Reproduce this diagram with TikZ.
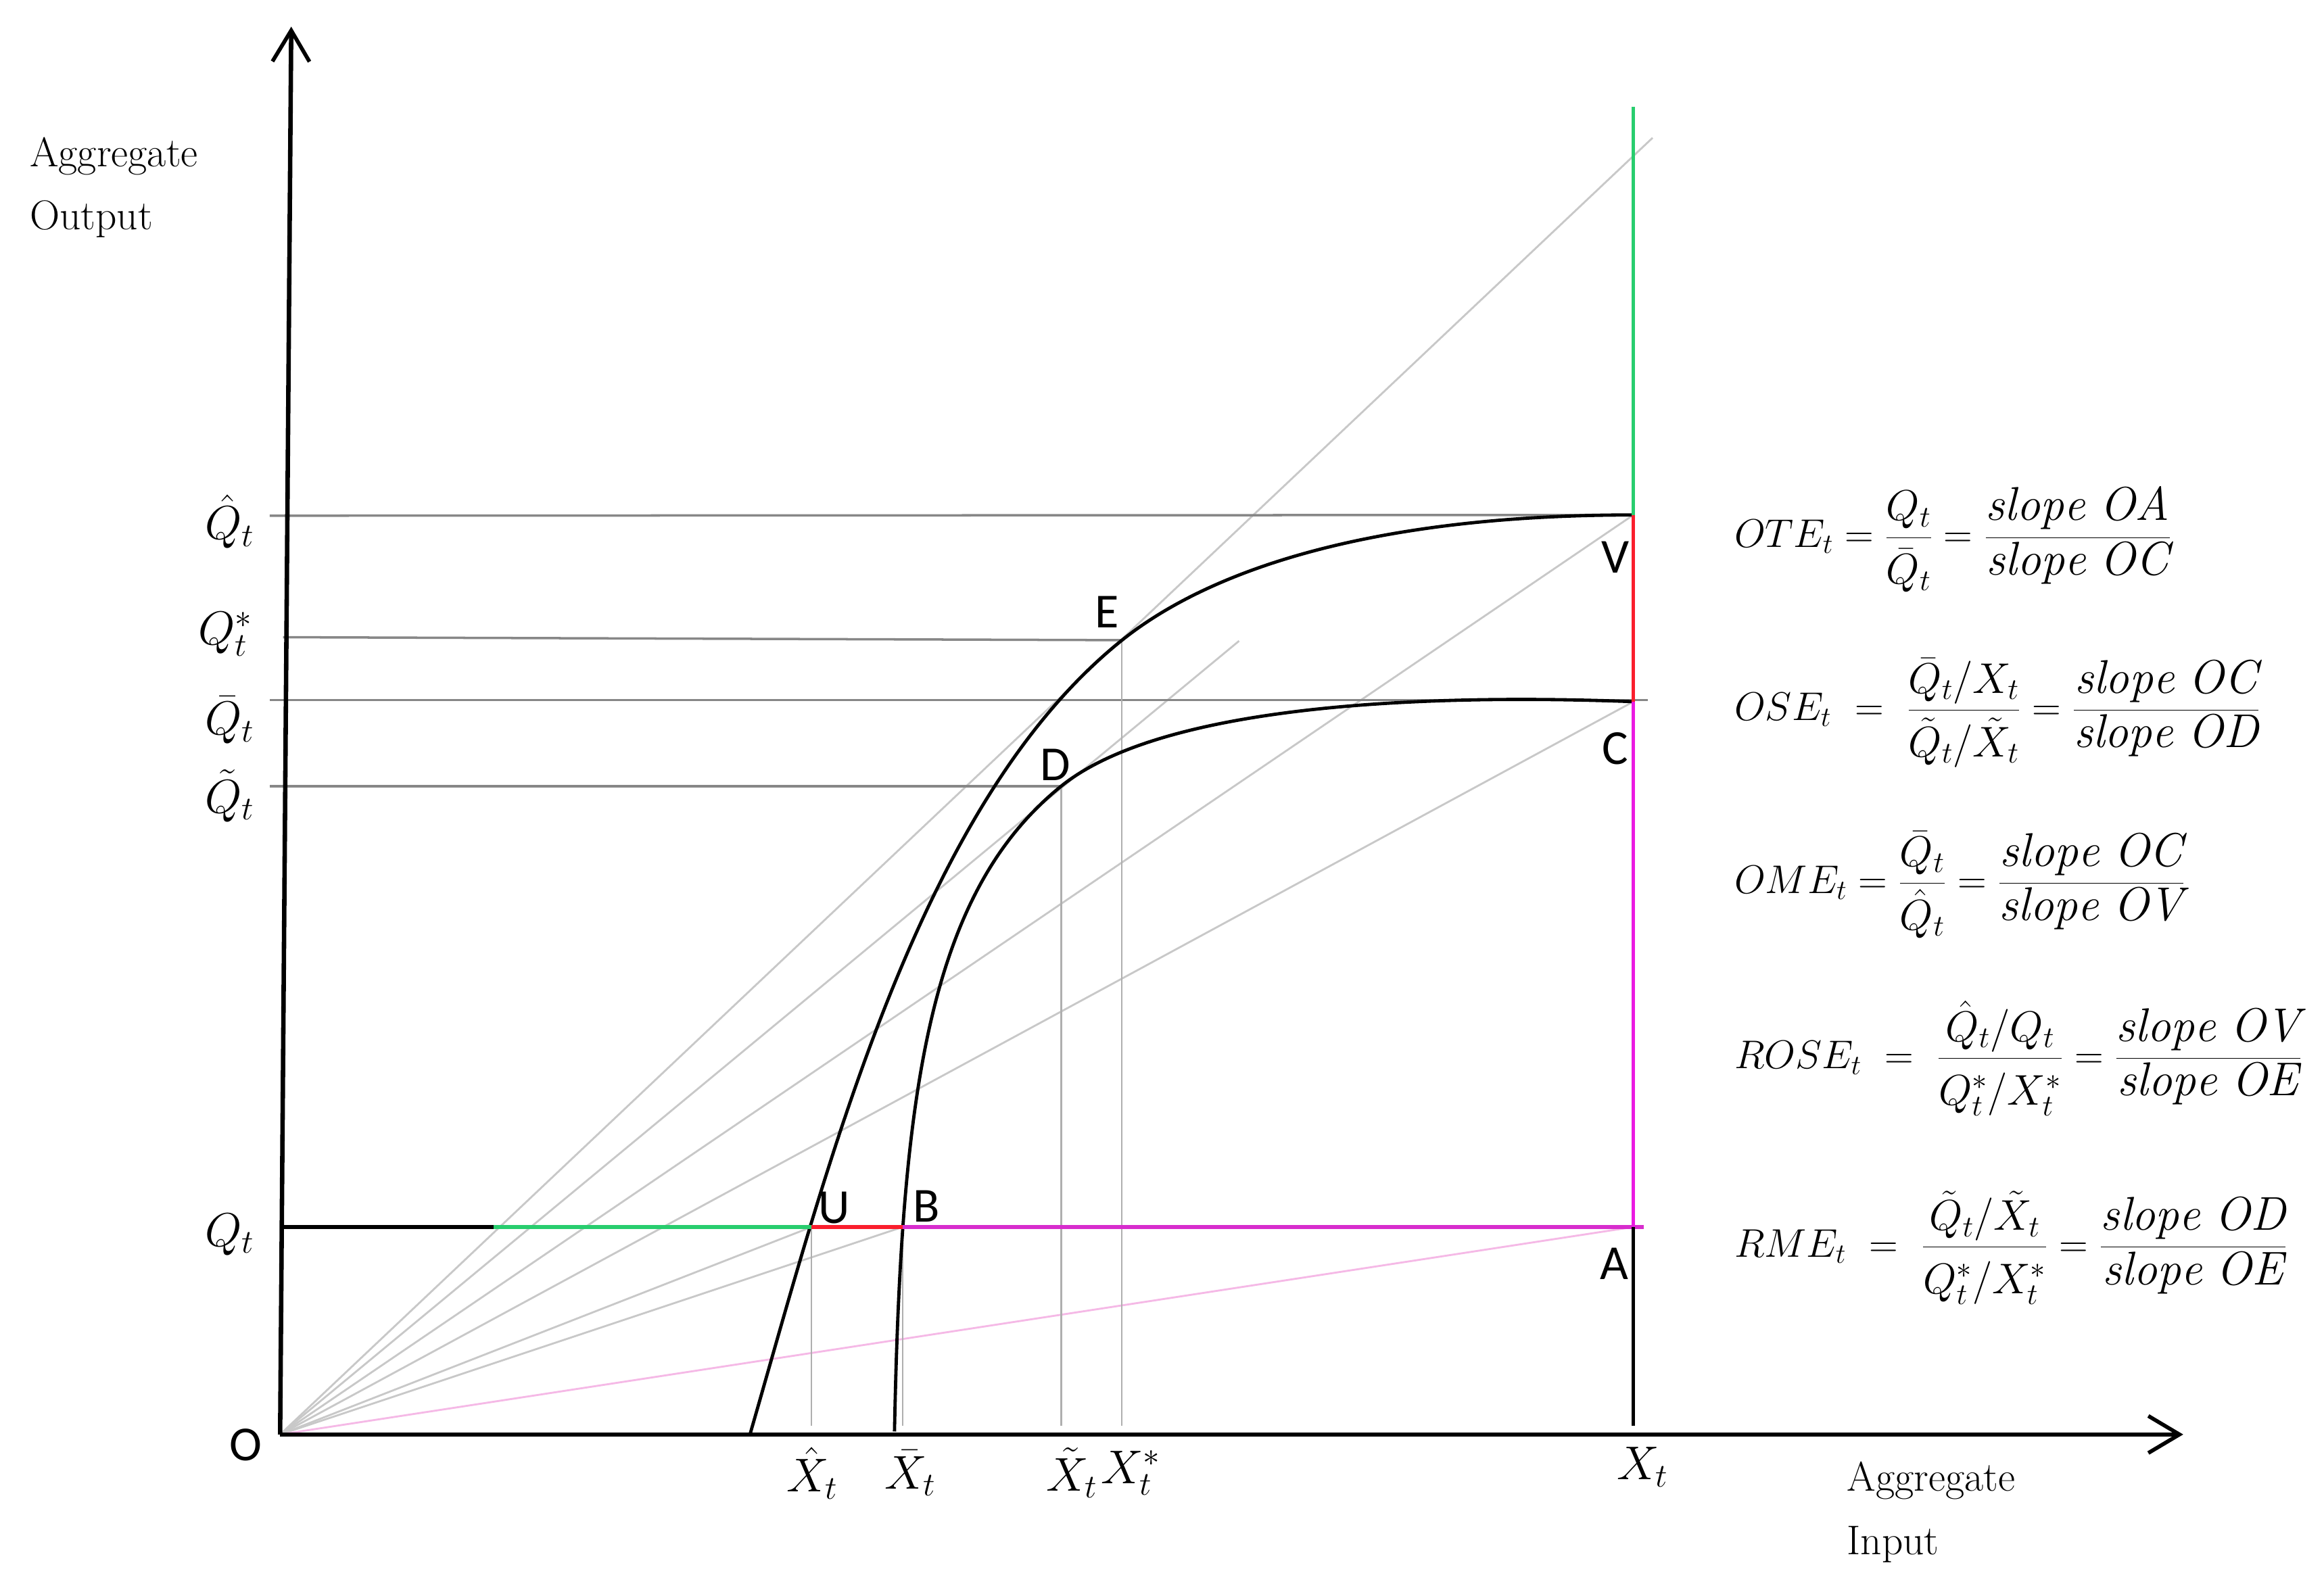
\RequirePackage{fix-cm}
\documentclass[tikz,border=0pt]{standalone}
\usepackage{fontspec}
\newfontfamily\ptfont{Carlito}
\usetikzlibrary{arrows.meta}
\definecolor{mygreen}{RGB}{40,205,110}
\definecolor{myred}{RGB}{250,30,45}
\definecolor{mymag}{RGB}{235,25,225}
\definecolor{mymagh}{RGB}{215,45,205}
\definecolor{guidegray}{RGB}{135,135,135}
\definecolor{raygray}{RGB}{200,200,200}
\definecolor{vguidegray}{RGB}{175,175,175}
\definecolor{pinkray}{RGB}{245,185,230}
\newcommand\slp[1]{\mbox{\fontsize{32}{38}\selectfont$\mathit{slope\ #1}$}}
\newcommand\qnum[1]{\mbox{\fontsize{29}{34}\selectfont$#1$\rule[-5pt]{0pt}{5pt}}}
\newcommand\qden[1]{\mbox{\fontsize{29}{34}\selectfont\rule{0pt}{30pt}$#1$}}
\tikzset{
  axisline/.style={line width=3pt, black, -{Straight Barb[length=21pt,width=25pt,line width=2.6pt]}},
  frontier/.style={line width=2.2pt, black},
  guide/.style={line width=1.6pt, guidegray},
  ray/.style={line width=1.3pt, raygray},
  vguide/.style={line width=1pt, vguidegray},
  seg/.style={line width=3pt},
  ptlabel/.style={font=\ptfont\fontsize{33}{38}\selectfont, inner sep=0pt},
  mlabel/.style={font=\fontsize{32}{38}\selectfont, inner sep=0pt},
  axlabel/.style={font=\fontsize{28}{34}\selectfont, inner sep=0pt, anchor=base west},
  formula/.style={font=\fontsize{27}{32}\selectfont, anchor=west, inner sep=0pt},
}
\begin{document}
\begin{tikzpicture}[x=1pt,y=-1pt]
\useasboundingbox (0,0) rectangle (1568,1070);
% key points
\coordinate (O) at (189,968);
\coordinate (Ytip) at (196.5,18);
\coordinate (Xtip) at (1473,968);
\coordinate (U) at (547.5,828);
\coordinate (B) at (609,828);
\coordinate (E) at (757,432);
\coordinate (D) at (716,530.5);
\coordinate (V) at (1102,347.5);
\coordinate (C) at (1102,473.5);
\coordinate (A) at (1102,828);
\coordinate (Xtop) at (1102,72);
\coordinate (Xbot) at (1102,962);
\coordinate (OEend) at (1115,93);
\coordinate (ODend) at (836,432.5);
\coordinate (QL) at (190,828);
\coordinate (G) at (333,828);
\coordinate (Aend) at (1109,828);
\coordinate (QhatL) at (182,348);
\coordinate (QstarL) at (191,430);
\coordinate (QbarL) at (182,472.5);
\coordinate (QbarR) at (1112,472.5);
\coordinate (QtilL) at (182,530.5);
\coordinate (F1) at (506,968);
\coordinate (F2) at (603.5,966);

% rays from the origin
\draw[ray] (O) -- (OEend);
\draw[ray] (O) -- (ODend);
\draw[ray] (O) -- (V);
\draw[ray] (O) -- (C);
\draw[ray] (O) -- (U);
\draw[ray] (O) -- (B);
\draw[line width=1.3pt, pinkray] (O) -- (A);

% horizontal guides
\draw[guide] (QhatL) -- (V);
\draw[guide] (QstarL) -- (E);
\draw[guide] (QbarL) -- (QbarR);
\draw[guide] (QtilL) -- (D);

% vertical guides
\draw[vguide] (U) -- (U |- Xbot);
\draw[vguide] (B) -- (B |- Xbot);
\draw[vguide] (D) -- (D |- Xbot);
\draw[vguide] (E) -- (E |- Xbot);

% frontiers
\draw[frontier] (F1) .. controls (558,788) and (619.5,542) .. (E)
                     .. controls (819.5,382) and (932,347.5) .. (V);
\draw[frontier] (F2) .. controls (608,740) and (626,603) .. (D)
                     .. controls (784.2,475.5) and (960,468) .. (C);

% coloured segments
\draw[seg, black] (QL) -- (G);
\draw[seg, mygreen] (G) -- (U);
\draw[seg, myred] (U) -- (B);
\draw[seg, mymagh] (B) -- (Aend);
\draw[line width=2.6pt, mygreen] (Xtop) -- (V);
\draw[line width=2.6pt, myred] (V) -- (C);
\draw[line width=2.6pt, mymag] (C) -- (A);
\draw[line width=2.6pt, black] (A) -- (Xbot);

% axes
\draw[axisline] (O) -- (Ytip);
\draw[axisline] (O) -- (Xtip);

% axis titles
\node[axlabel] (ya1) at (20,112.5) {Aggregate};
\node[axlabel] (ya2) at (20,155) {Output};
\node[axlabel] (xa1) at (1246,1006) {Aggregate};
\node[axlabel] (xa2) at (1246,1049) {Input};

% y labels
\node[mlabel] (lqh) at (155,352) {$\hat{Q}_t$};
\node[mlabel] (lqs) at (152,428) {$Q_t^*$};
\node[mlabel] (lqb) at (155,486) {$\bar{Q}_t$};
\node[mlabel] (lqt) at (155,537) {$\tilde{Q}_t$};
\node[mlabel] (lq) at (155,833) {$Q_t$};

% x labels
\node[mlabel] (lxh) at (548,994) {$\hat{X}_t$};
\node[mlabel] (lxb) at (614,994) {$\bar{X}_t$};
\node[mlabel] (lxt) at (723,994) {$\tilde{X}_t$};
\node[mlabel] (lxs) at (763,994) {$X_t^*$};
\node[mlabel] (lx) at (1108,990) {$X_t$};

% point labels
\node[ptlabel] (pU) at (563,815) {U};
\node[ptlabel] (pB) at (625,814) {B};
\node[ptlabel] (pE) at (747,413) {E};
\node[ptlabel] (pD) at (712,516) {D};
\node[ptlabel] (pV) at (1090,376) {V};
\node[ptlabel] (pC) at (1090,505) {C};
\node[ptlabel] (pA) at (1089,853) {A};
\node[ptlabel] (pO) at (166,975) {O};

% formulas
\node[formula] (f1) at (1170,364) {$\displaystyle OTE_t=\frac{\qnum{Q_t}}{\qden{\bar{Q}_t}}=\frac{\slp{OA}}{\slp{OC}}$};
\node[formula] (f2) at (1170,481) {$\displaystyle OSE_t\ =\ \frac{\qnum{\bar{Q}_t/X_t}}{\qden{\tilde{Q}_t/\tilde{X}_t}}=\frac{\slp{OC}}{\slp{OD}}$};
\node[formula] (f3) at (1170,597) {$\displaystyle OME_t=\frac{\qnum{\bar{Q}_t}}{\qden{\hat{Q}_t}}=\frac{\slp{OC}}{\slp{OV}}$};
\node[formula] (f4) at (1170,714) {$\displaystyle ROSE_t\ =\ \frac{\qnum{\hat{Q}_t/Q_t}}{\qden{Q_t^*/X_t^*}}=\frac{\slp{OV}}{\slp{OE}}$};
\node[formula] (f5) at (1170,842) {$\displaystyle RME_t\ =\ \frac{\qnum{\tilde{Q}_t/\tilde{X}_t}}{\qden{Q_t^*/X_t^*}}=\frac{\slp{OD}}{\slp{OE}}$};
\end{tikzpicture}
\end{document}
